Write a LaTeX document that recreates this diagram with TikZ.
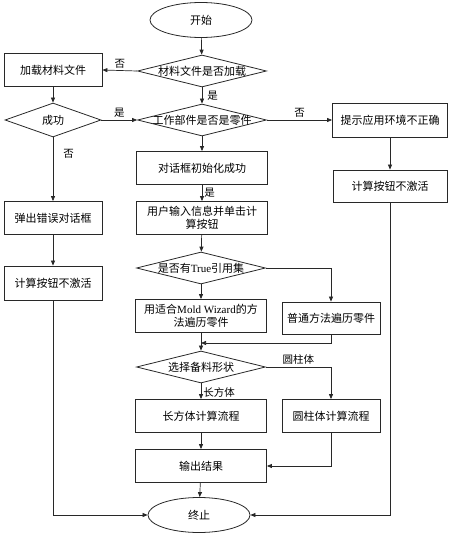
\documentclass[tikz,border=0pt]{standalone}
\usepackage{fontspec}
\setmainfont{Liberation Serif}
\newfontfamily\cjk{Noto Sans CJK SC}
\usepackage{tikz}
\usetikzlibrary{positioning, shapes.geometric, arrows.meta}
\definecolor{LineGray}{RGB}{40, 40, 40}

\begin{document}
\begin{tikzpicture}[x=1pt, y=-1pt,
    every node/.style={font=\cjk\fontsize{11}{13.5}\selectfont, text=black},
    box/.style={draw=LineGray, line width=0.8pt, rectangle, minimum width=131pt, minimum height=33pt, align=center, inner sep=1pt},
    sidebox/.style={box, minimum width=98pt},
    decide/.style={draw=LineGray, line width=0.8pt, diamond, inner sep=0pt, minimum width=129pt, minimum height=32pt},
    term/.style={draw=LineGray, line width=0.8pt, ellipse, minimum width=102pt, minimum height=35pt},
    arr/.style={draw=LineGray, line width=0.7pt, -{Triangle[length=5pt, width=4pt]}},
    lab/.style={font=\cjk\fontsize{10.5}{12}\selectfont, inner sep=2pt}]
    \useasboundingbox (0,0) rectangle (453,537);

    % Main column
    \node[term] (start) at (201, 20) {开始};
    \node[decide] (loaded) at (202, 71) {\makebox[0pt]{材料文件是否加载}};
    \node[decide] (ispart) at (202, 120) {\makebox[0pt]{工作部件是否是零件}};
    \node[box] (init) at (202, 168) {对话框初始化成功};
    \node[box] (input) at (202, 218) {用户输入信息并单击计\\算按钮};
    \node[decide] (hastrue) at (201, 268) {\makebox[0pt]{是否有{\rmfamily True}引用集}};
    \node[box] (mold) at (201, 316) {用适合{\rmfamily Mold Wizard}的方\\法遍历零件};
    \coordinate (join) at (201, 343);
    \node[decide] (shape) at (201, 367) {\makebox[0pt]{选择备料形状}};
    \node[box] (cuboid) at (201, 416) {长方体计算流程};
    \node[box] (result) at (201, 466) {输出结果};
    \node[term] (stop) at (199, 515) {终止};

    % Left column
    \node[sidebox] (loadfile) at (53, 70) {加载材料文件};
    \node[decide, minimum width=96pt, minimum height=34pt] (ok) at (53, 120) {\makebox[0pt]{成功}};
    \node[sidebox] (errdlg) at (53, 218) {弹出错误对话框};
    \node[sidebox, minimum height=34pt] (offleft) at (53, 283) {计算按钮不激活};

    % Right column
    \node[box, minimum width=115pt, minimum height=34pt] (hint) at (390, 120) {提示应用环境不正确};
    \node[box, minimum width=114pt, minimum height=32pt] (offright) at (390, 186) {计算按钮不激活};
    \node[sidebox, minimum height=32pt] (plain) at (331, 318) {普通方法遍历零件};
    \node[sidebox, minimum height=33pt] (cylinder) at (331, 416) {圆柱体计算流程};

    % Connectors
    \draw[arr] (start) -- (loaded);
    \draw[arr] (loaded.west) -- node[lab, above] {否} (loadfile.east);
    \draw[arr] (loaded) -- node[lab, right=3pt] {是} (ispart);
    \draw[arr] (loadfile) -- (ok);
    \draw[arr] (ok.east) -- node[lab, above] {是} (ispart.west);
    \draw[arr] (ok) -- node[lab, right=8pt, pos=0.25] {否} (errdlg);
    \draw[arr] (errdlg) -- (offleft);
    \draw[arr] (ispart.east) -- node[lab, above] {否} (hint.west);
    \draw[arr] (hint) -- (offright);
    \draw[arr] (ispart) -- (init);
    \draw[arr] (init) -- node[lab, right] {是} (input);
    \draw[arr] (input) -- (hastrue);
    \draw[arr] (hastrue) -- (mold);
    \draw[arr] (hastrue.east) -| (plain.north);
    \draw[draw=LineGray, line width=0.7pt] (mold.south) -- (join);
    \draw[arr] (plain.south) |- (join);
    \draw[arr] (join) -- (shape.north);
    \draw[arr] (shape) -- node[lab, right, pos=0.55] {长方体} (cuboid);
    \draw[arr] (shape.east) -| node[lab, above, pos=0.25] {圆柱体} (cylinder.north);
    \draw[arr] (cuboid) -- (result);
    \draw[arr] (cylinder.south) |- (result.east);
    \draw[arr] (result) -- (stop);
    \draw[arr] (offleft.south) |- (stop.west);
    \draw[arr] (offright.south) |- (stop.east);
\end{tikzpicture}
\end{document}
